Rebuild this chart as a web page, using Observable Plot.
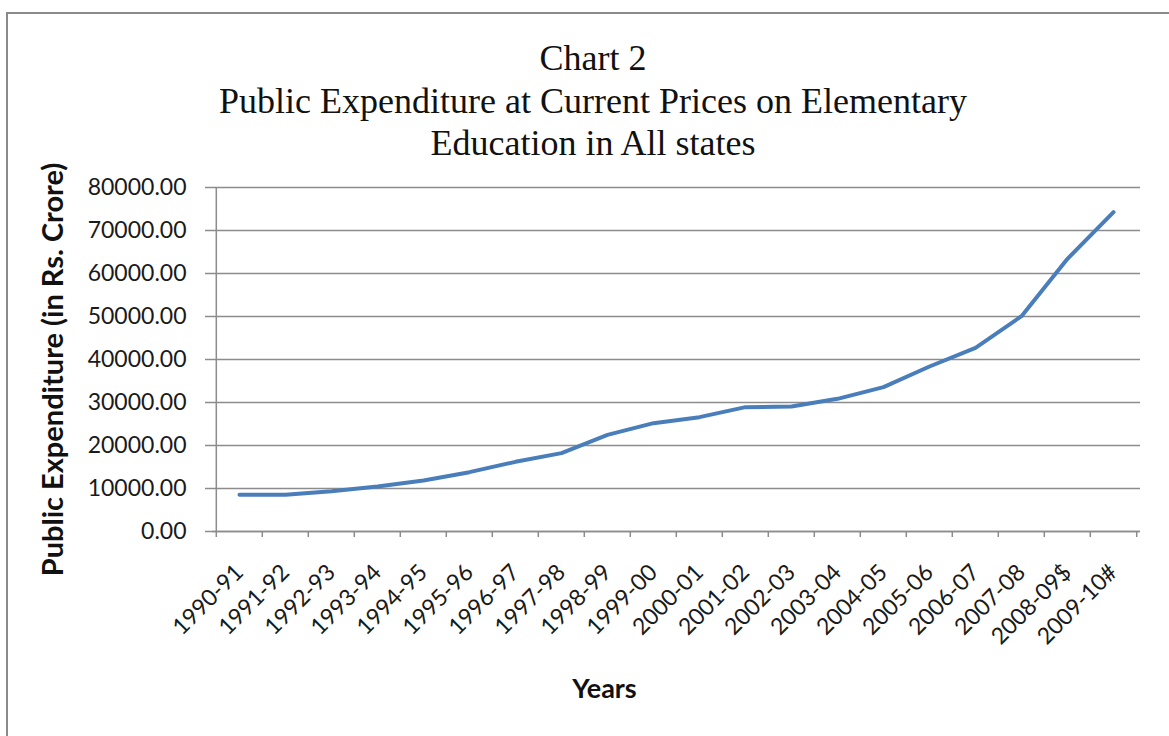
<!DOCTYPE html>
<html>
<head>
<meta charset="utf-8">
<script src="https://cdn.jsdelivr.net/npm/d3@7"></script>
<script src="https://cdn.jsdelivr.net/npm/@observablehq/plot@0.6"></script>
<style>
  html, body { margin: 0; padding: 0; background: #fff; overflow: hidden; }
  #wrap { position: relative; width: 1169px; height: 736px; overflow: hidden; }
  #border { position: absolute; left: 6px; top: 12px; width: 1300px; height: 900px; border: 2px solid #8a8a8a; box-sizing: border-box; }
  #title { position: absolute; left: 0; top: 37px; width: 1186px; text-align: center;
           font-family: "Liberation Serif", "Times New Roman", serif; font-size: 36px; line-height: 42.5px; color: #111; }
  #chart { position: absolute; left: 0; top: 0; }
</style>
</head>
<body>
<div id="wrap">
  <div id="border"></div>
  <div id="chart"></div>
  <div id="title">Chart 2<br>Public Expenditure at Current Prices on Elementary<br>Education in All states</div>
</div>
<script>
const years = ["1990-91","1991-92","1992-93","1993-94","1994-95","1995-96","1996-97","1997-98","1998-99","1999-00",
               "2000-01","2001-02","2002-03","2003-04","2004-05","2005-06","2006-07","2007-08","2008-09$","2009-10#"];
const expenditure = [8530, 8560, 9380, 10470, 11860, 13800, 16200, 18220, 22480, 25190,
                     26590, 28920, 29070, 30850, 33570, 38370, 42710, 50080, 63410, 74270];
const yTicks = [0, 10000, 20000, 30000, 40000, 50000, 60000, 70000, 80000];
const yLabel = "Public Expenditure (in Rs. Crore)";
const xLabel = "Years";

const data = years.map((y, i) => ({year: y, value: expenditure[i]}));
const half = (1140 - 212) / years.length / 2;
const grid = "#8c8c8c";

const chart = Plot.plot({
  width: 1169,
  height: 736,
  marginLeft: 212,
  marginRight: 29,
  marginTop: 187,
  marginBottom: 205,
  style: {fontFamily: "Lato, sans-serif", fontSize: "23px", color: "#1a1a1a", background: "transparent"},
  x: {type: "point", domain: years, padding: 0.5},
  y: {domain: [0, 80000]},
  marks: [
    Plot.gridY(yTicks, {stroke: grid, strokeOpacity: 1, strokeWidth: 1.5}),
    Plot.axisY(yTicks, {tickSize: 7, tickPadding: 19, stroke: grid, strokeWidth: 1.5, fill: "#1a1a1a",
                        tickFormat: d3.format(".2f"), fontSize: 23, label: null}),
    Plot.ruleX([years[0]], {dx: -half, stroke: grid, strokeWidth: 1.5}),
    Plot.ruleY([0], {stroke: grid, strokeWidth: 1.5}),
    Plot.axisX(years, {tickSize: 6, dx: -half, stroke: grid, strokeWidth: 1.5, tickFormat: () => "", label: null}),
    Plot.axisX([years[years.length - 1]], {tickSize: 6, dx: half, stroke: grid, strokeWidth: 1.5, tickFormat: () => "", label: null}),
    Plot.axisX(years, {tickSize: 0, tickPadding: 37, tickRotate: -45, fontSize: 23, fill: "#1a1a1a", label: null}),
    Plot.line(data, {x: "year", y: "value", stroke: "#4A7EBB", strokeWidth: 4, strokeLinejoin: "round", strokeLinecap: "round"}),
    Plot.text([yLabel], {frameAnchor: "left", textAnchor: "middle", rotate: -90, dx: -150, dy: 10, lineAnchor: "bottom",
                         fontSize: 29, fontWeight: "bold", fill: "#111"}),
    Plot.text([xLabel], {frameAnchor: "bottom", dx: -72, dy: 166, lineAnchor: "bottom",
                         fontSize: 27, fontWeight: "bold", fill: "#111"})
  ]
});
document.getElementById("chart").appendChild(chart);
</script>
</body>
</html>
